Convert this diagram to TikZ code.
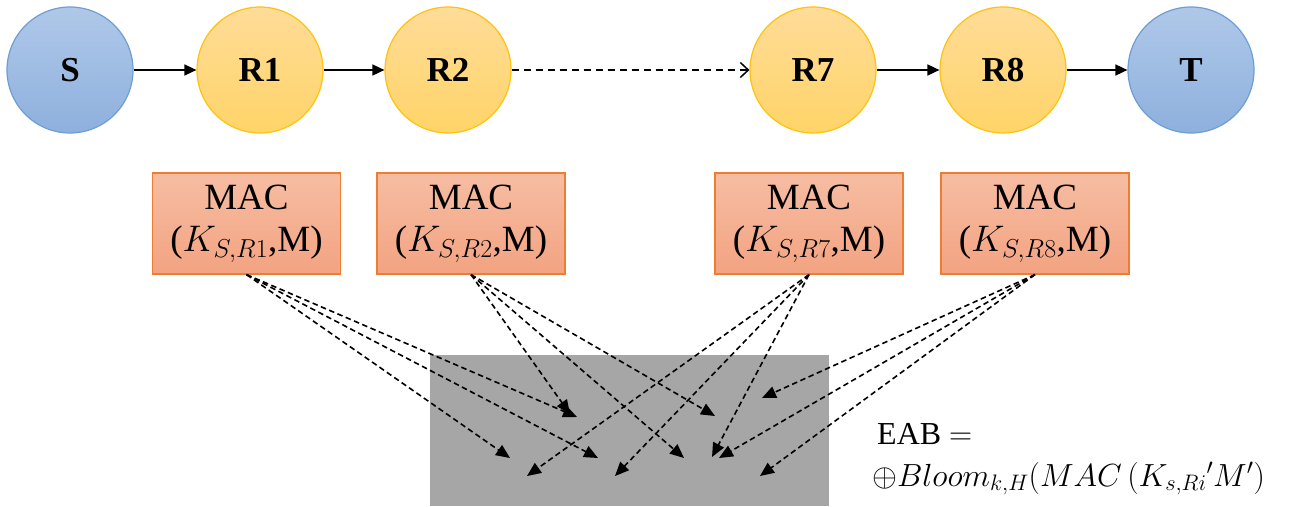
\RequirePackage{fix-cm}
\documentclass[tikz,border=0pt]{standalone}
\usepackage{fontspec}
\setmainfont{Liberation Serif}
\usetikzlibrary{arrows.meta}
\definecolor{bluetop}{HTML}{AFC8E9}
\definecolor{bluebot}{HTML}{8EB0DD}
\definecolor{blueline}{HTML}{6C9FD3}
\definecolor{yeltop}{HTML}{FFDC98}
\definecolor{yelbot}{HTML}{FFD468}
\definecolor{yelline}{HTML}{FFC20E}
\definecolor{mactop}{HTML}{F6BDA3}
\definecolor{macbot}{HTML}{F3A381}
\definecolor{macline}{HTML}{ED7D31}
\definecolor{grayfill}{HTML}{A6A6A6}
\tikzset{
  endpt/.style={circle, minimum size=126pt, inner sep=0pt, line width=1.2pt, draw=blueline, top color=bluetop, bottom color=bluebot, font=\fontsize{35}{40}\selectfont\bfseries},
  relay/.style={circle, minimum size=126pt, inner sep=0pt, line width=1.2pt, draw=yelline, top color=yeltop, bottom color=yelbot, font=\fontsize{35}{40}\selectfont\bfseries},
  macbox/.style={rectangle, minimum width=188pt, minimum height=101pt, inner sep=0pt, line width=1.2pt, draw=macline, top color=mactop, bottom color=macbot, align=center, font=\fontsize{37}{42}\selectfont},
  hop/.style={line width=1.5pt, -{Triangle[length=12pt,width=11pt]}},
  hopdash/.style={line width=1.5pt, dash pattern=on 7pt off 5pt, -{Straight Barb[length=8pt,width=15pt]}},
  feed/.style={line width=1.6pt, dash pattern=on 5.5pt off 3.5pt, -{Triangle[length=14pt,width=12pt]}},
  formula/.style={anchor=base west, inner sep=0pt, font=\fontsize{32}{38}\selectfont}
}
\begin{document}
\begin{tikzpicture}[x=1pt,y=-1pt]
\useasboundingbox (0,0) rectangle (1292,506);
% path nodes
\node[endpt] (S)  at (70,70)   {S};
\node[relay] (R1) at (260,70)  {R1};
\node[relay] (R2) at (448,70)  {R2};
\node[relay] (R7) at (813,70)  {R7};
\node[relay] (R8) at (1003,70) {R8};
\node[endpt] (T)  at (1191,70) {T};
\draw[hop] (S) -- (R1);
\draw[hop] (R1) -- (R2);
\draw[hopdash] (R2) -- (R7);
\draw[hop] (R7) -- (R8);
\draw[hop] (R8) -- (T);
% MAC boxes
\node[macbox] (M1) at (246.5,223.5) {MAC\\($K_{S,R1}$,M)};
\node[macbox] (M2) at (471,223.5)   {MAC\\($K_{S,R2}$,M)};
\node[macbox] (M7) at (809,223.5)   {MAC\\($K_{S,R7}$,M)};
\node[macbox] (M8) at (1035,223.5)  {MAC\\($K_{S,R8}$,M)};
% gray filter box
\node[rectangle, fill=grayfill, minimum width=399pt, minimum height=151pt, inner sep=0pt, anchor=north west] (G) at (430,355) {};
% arrow tips
\coordinate (ta)  at (577,417);
\coordinate (ta2) at (570,414);
\coordinate (tb)  at (715,416);
\coordinate (tc)  at (510,458);
\coordinate (td)  at (598,458);
\coordinate (te)  at (684,458);
\coordinate (tf)  at (712,457);
\coordinate (tf2) at (719,458);
\coordinate (tg)  at (762,398);
\coordinate (th)  at (527,476);
\coordinate (ti)  at (615,476);
\coordinate (tj)  at (760,476);
% feeds
\draw[feed] (M1.south) -- (ta);
\draw[feed] (M1.south) -- (td);
\draw[feed] (M1.south) -- (tc);
\draw[feed] (M2.south) -- (ta2);
\draw[feed] (M2.south) -- (te);
\draw[feed] (M2.south) -- (tb);
\draw[feed] (M7.south) -- (th);
\draw[feed] (M7.south) -- (ti);
\draw[feed] (M7.south) -- (tf);
\draw[feed] (M8.south) -- (tg);
\draw[feed] (M8.south) -- (tf2);
\draw[feed] (M8.south) -- (tj);
% formula
\node[formula] (eab1) at (877,444) {EAB $=$};
\node[formula] (eab2) at (872,486) {$\oplus Bloom_{k,H}(MAC\,(K_{s,Ri}{}^{\prime}M^{\prime})$};
\end{tikzpicture}
\end{document}
